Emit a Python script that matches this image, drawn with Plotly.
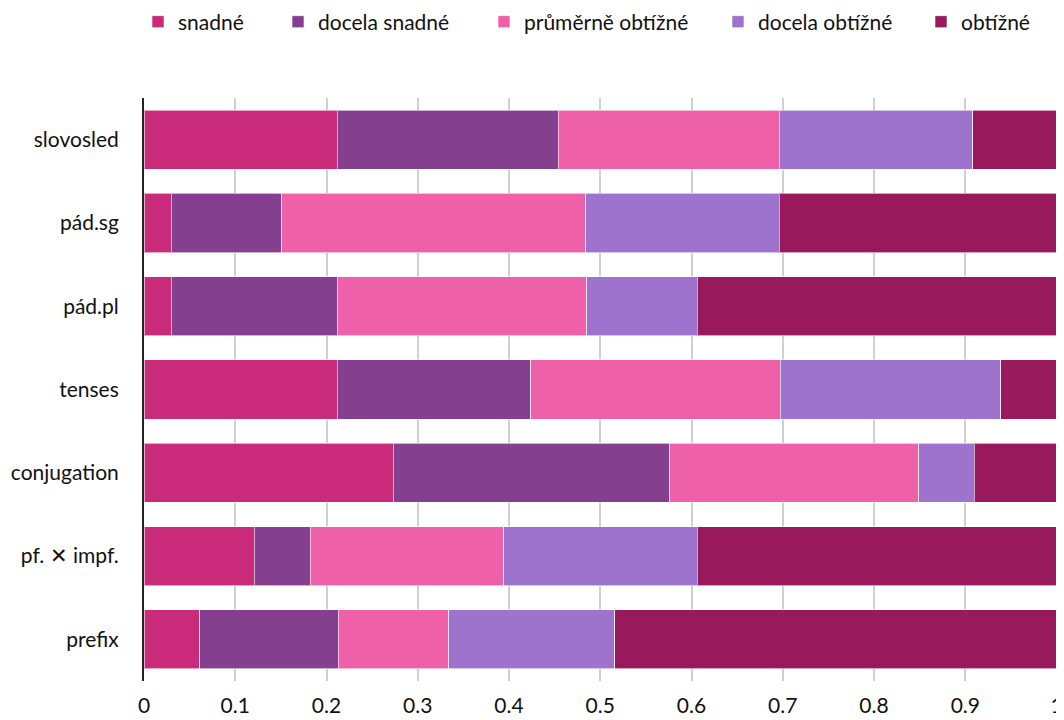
import plotly.graph_objects as go

categories = ["slovosled", "pád.sg", "pád.pl", "tenses", "conjugation", "pf. ✕ impf.", "prefix"]
series_names = ["snadné", "docela snadné", "průměrně obtížné", "docela obtížné", "obtížné"]
snadne = [0.212, 0.030, 0.030, 0.212, 0.273, 0.121, 0.061]
docela_snadne = [0.242, 0.121, 0.182, 0.212, 0.303, 0.061, 0.152]
prumerne = [0.242, 0.333, 0.273, 0.273, 0.273, 0.212, 0.121]
docela_obtizne = [0.212, 0.212, 0.121, 0.242, 0.061, 0.212, 0.182]
obtizne = [0.092, 0.304, 0.394, 0.061, 0.090, 0.394, 0.484]
colors = ["#C92A79", "#84408E", "#EE60A7", "#9D73CE", "#99195D"]
x_ticks = [0, 0.1, 0.2, 0.3, 0.4, 0.5, 0.6, 0.7, 0.8, 0.9, 1]
x_tick_labels = ["0", "0.1", "0.2", "0.3", "0.4", "0.5", "0.6", "0.7", "0.8", "0.9", "1"]

values = [snadne, docela_snadne, prumerne, docela_obtizne, obtizne]

# page body has an 8px margin; figure sized to fit the 1064x720 window
W, H = 1056, 712
ML, MR, MT, MB = 136, 7, 90, 39
plot_w = W - ML - MR
plot_h = H - MT - MB
legend_left_px = [130, 270, 476, 710, 913]  # figure px of each legend box
legend_center_y_px = 14

legend_ids = ["legend", "legend2", "legend3", "legend4", "legend5"]

fig = go.Figure()
for name, vals, col, lid in zip(series_names, values, colors, legend_ids):
    fig.add_trace(go.Bar(
        y=categories, x=vals, name=name, orientation="h",
        marker=dict(color=col, line=dict(color="rgba(255,255,255,0.6)", width=1)),
        width=0.71, legend=lid,
    ))

legend_layouts = {}
for lid, lx in zip(legend_ids, legend_left_px):
    legend_layouts[lid] = dict(
        orientation="h", x=(lx - ML) / plot_w, xanchor="left",
        y=(H - MB - legend_center_y_px) / plot_h, yanchor="middle",
        font=dict(size=21, color="#111"), itemwidth=30,
        bgcolor="rgba(0,0,0,0)",
    )

fig.update_layout(
    barmode="stack",
    width=W, height=H,
    margin=dict(l=ML, r=MR, t=MT, b=MB, autoexpand=False),
    plot_bgcolor="white", paper_bgcolor="white",
    font=dict(family="Lato, sans-serif", size=21, color="#111"),
    showlegend=True,
    **legend_layouts,
)
fig.update_xaxes(range=[0, 1.0005], tickvals=x_ticks, ticktext=x_tick_labels,
                 showgrid=True, gridcolor="#D0D0D0", gridwidth=2,
                 zeroline=False, showline=False, ticks="", tickfont=dict(size=21),
                 ticklabelstandoff=10, ticklabeloverflow="allow", automargin=False)
fig.update_yaxes(autorange="reversed", showline=True, linecolor="#222", linewidth=2,
                 ticks="", ticklabelstandoff=19, tickfont=dict(size=21), automargin=False)
fig.write_html("out.html")
